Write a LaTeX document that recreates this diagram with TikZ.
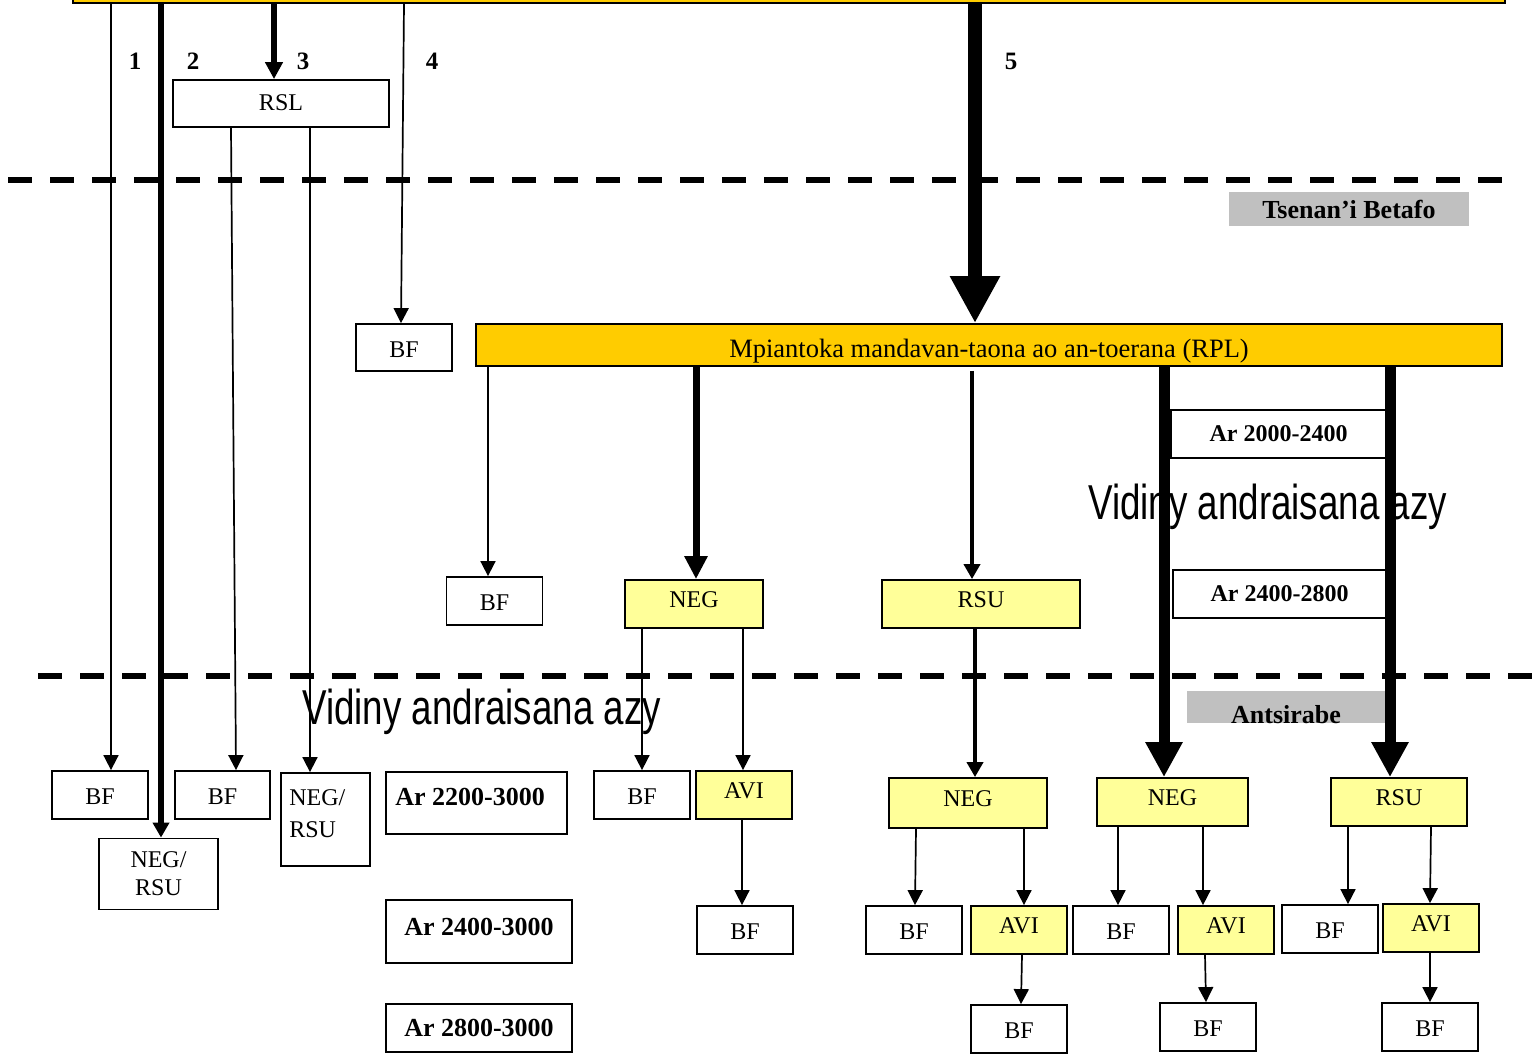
\documentclass[tikz,border=0pt]{standalone}
\usepackage{fontspec}
\setmainfont{Liberation Serif}
\newfontfamily\narrowsans[FakeStretch=0.75]{Liberation Sans}
\usetikzlibrary{arrows.meta}
\definecolor{gold}{HTML}{FFCC00}
\definecolor{pale}{HTML}{FFFF99}
\definecolor{greybg}{HTML}{C0C0C0}
\begin{document}
\begin{tikzpicture}[x=1pt,y=-1pt,
  plainbox/.style={draw, line width=1.8pt, inner sep=0pt, fill=white,
    minimum width=96pt, minimum height=48pt,
    font=\fontsize{24}{28}\selectfont},
  box/.style={plainbox, text height=19pt, text depth=0pt},
  ybox/.style={plainbox, fill=pale, text height=17pt, text depth=10pt},
  rbox/.style={draw, line width=1.8pt, inner sep=0pt, fill=white,
    font=\bfseries\fontsize{24}{28}\selectfont},
  lbox/.style={draw, line width=1.8pt, inner sep=0pt, fill=white,
    font=\bfseries\fontsize{26}{30}\selectfont},
  gbox/.style={fill=greybg, inner sep=0pt, font=\bfseries\fontsize{26}{30}\selectfont},
  num/.style={inner sep=0pt, font=\bfseries\fontsize{25}{25}\selectfont},
  vid/.style={anchor=base west, inner sep=0pt, font=\narrowsans\fontsize{49}{49}\selectfont},
  tarr/.style={line width=1.7pt, -{Triangle[length=15pt,width=15pt]}},
  arrB/.style={line width=5.5pt, -{Triangle[length=15pt,width=16pt]}},
  arrC/.style={line width=6pt, -{Triangle[length=17pt,width=17pt]}},
  arrD/.style={line width=14pt, -{Triangle[length=47pt,width=47pt]}},
  arrE/.style={line width=7pt, -{Triangle[length=23pt,width=22pt]}},
  arrF/.style={line width=4.5pt, -{Triangle[length=15pt,width=16pt]}},
  arrG/.style={line width=11pt, -{Triangle[length=35pt,width=35pt]}},
  dash line/.style={line width=5.5pt, dash pattern=on 24pt off 18pt}
]
\useasboundingbox (0,0) rectangle (1534,1055);
\clip (0,0) rectangle (1534,1055);
\fill[white] (0,0) rectangle (1534,1055);

% ---- texts behind ----
\node[vid] (vidA) at (302,724) {Vidiny andraisana azy};
\node[vid] (vidB) at (1088,519) {Vidiny andraisana azy};

% ---- top level ----
\node[draw, line width=1.8pt, fill=gold, minimum width=1432pt, minimum height=30pt, inner sep=0pt] (main) at (789,-12) {};
\node[box, minimum width=216pt, minimum height=47pt, text height=13pt] (RSL) at (281,103.5) {RSL};
\node[box, minimum height=47pt] (BFfour) at (404,347.5) {BF};
\node[draw, line width=1.8pt, fill=gold, minimum width=1026pt, minimum height=42pt, inner sep=0pt,
  text height=25pt, text depth=0pt,
  font=\fontsize{26.5}{28}\selectfont] (RPL) at (989,345) {Mpiantoka mandavan-taona ao an-toerana (RPL)};

\node[num] (n1) at (135,61) {1};
\node[num] (n2) at (193,61) {2};
\node[num] (n3) at (303,61) {3};
\node[num] (n4) at (432,61) {4};
\node[num] (n5) at (1011,61) {5};

\node[gbox, minimum width=240pt, minimum height=34pt] (tsen) at (1349,209) {Tsenan’i Betafo};
\node[gbox, minimum width=198pt, text height=32pt, text depth=0pt, anchor=base] (antsi) at (1286,723) {Antsirabe};

% ---- RPL level ----
\node[box] (BFa) at (494.5,601) {BF};
\node[ybox, minimum width=138pt] (NEGa) at (694,604) {NEG};
\node[ybox, minimum width=198pt] (RSUa) at (981,604) {RSU};
\node[rbox, minimum width=215pt, minimum height=48pt] (Ar1) at (1278.5,434) {Ar 2000-2400};
\node[rbox, minimum width=213pt, minimum height=48pt] (Ar2) at (1279.5,594) {Ar 2400-2800};

% ---- bottom level ----
\node[box] (BFone) at (100,795) {BF};
\node[plainbox, minimum width=119pt, minimum height=71pt, align=center] (NRone) at (158.5,874) {NEG/\\RSU};
\node[box, minimum width=95pt] (BFtwo) at (222.5,795) {BF};
\node[plainbox, minimum width=89pt, minimum height=93pt,
  label={[anchor=north west, inner sep=0pt, xshift=9pt, yshift=-17pt, align=left,
  font=\fontsize{24}{32}\selectfont]north west:{NEG/\\RSU}}] (NRtwo) at (325.5,819.5) {};
\node[lbox, minimum width=181pt, minimum height=62pt,
  label={[anchor=north west, inner sep=0pt, xshift=10pt, yshift=-17pt,
  font=\bfseries\fontsize{26}{30}\selectfont]north west:{Ar 2200-3000}}] (Ar3) at (476.5,803) {};
\node[lbox, minimum width=186pt, minimum height=63pt, text height=7pt, text depth=0pt] (Ar4) at (479,931.5) {Ar 2400-3000};
\node[lbox, minimum width=186pt, minimum height=48pt] (Ar5) at (479,1028) {Ar 2800-3000};

\node[box] (BFb) at (642,795) {BF};
\node[ybox] (AVIa) at (744,795) {AVI};
\node[box] (BFc) at (745,930) {BF};

\node[ybox, minimum width=158pt, minimum height=50pt] (NEGb) at (968,803) {NEG};
\node[box] (BFd) at (914,930) {BF};
\node[ybox] (AVIb) at (1019,930) {AVI};
\node[box] (BFe) at (1019,1029) {BF};

\node[ybox, minimum width=151pt] (NEGc) at (1172.5,802) {NEG};
\node[box] (BFf) at (1121,930) {BF};
\node[ybox] (AVIc) at (1226,930) {AVI};
\node[box] (BFg) at (1208,1027) {BF};

\node[ybox, minimum width=136pt] (RSUc) at (1399,802) {RSU};
\node[box] (BFh) at (1330,929) {BF};
\node[ybox] (AVId) at (1431,928) {AVI};
\node[box] (BFi) at (1430,1027) {BF};

% ---- dashed separators ----
\coordinate (dA1) at (8,180);
\coordinate (dA2) at (1505,180);
\coordinate (dB1) at (38,676);
\coordinate (dB2) at (1534,676);
\draw[dash line] (dA1) -- (dA2);
\draw[dash line] (dB1) -- (dB2);

% ---- connectors ----
\draw[tarr] (111,0 |- main.south) -- (111,0 |- BFone.north);
\draw[arrB] (161,0 |- main.south) -- (161,0 |- NRone.north);
\draw[arrC] (274,0 |- main.south) -- (274,0 |- RSL.north);
\draw[tarr] (404,0 |- main.south) -- (401,0 |- BFfour.north);
\draw[arrD] (975,0 |- main.south) -- (975,0 |- RPL.north);

\draw[tarr] (231,0 |- RSL.south) -- (236,0 |- BFtwo.north);
\draw[tarr] (310,0 |- RSL.south) -- (310,0 |- NRtwo.north);

\draw[tarr] (488,0 |- RPL.south) -- (488,0 |- BFa.north);
\draw[arrE] (696,0 |- RPL.south) -- (696,0 |- NEGa.north);
\draw[arrF] ([yshift=-4pt]972,0 |- RPL.south) -- (972,0 |- RSUa.north);
\draw[arrG] (1164,0 |- RPL.south) -- (1164,0 |- NEGc.north);
\draw[arrG] (1390,0 |- RPL.south) -- (1390,0 |- RSUc.north);

\draw[tarr] (642,0 |- NEGa.south) -- (642,0 |- BFb.north);
\draw[tarr] (743,0 |- NEGa.south) -- (743,0 |- AVIa.north);
\draw[tarr] (742,0 |- AVIa.south) -- (742,0 |- BFc.north);

\draw[arrF] (975,0 |- RSUa.south) -- (975,0 |- NEGb.north);
\draw[tarr] (916,0 |- NEGb.south) -- (915,0 |- BFd.north);
\draw[tarr] (1024,0 |- NEGb.south) -- (1024,0 |- AVIb.north);
\draw[tarr] (1022,0 |- AVIb.south) -- (1021,0 |- BFe.north);

\draw[tarr] (1118,0 |- NEGc.south) -- (1118,0 |- BFf.north);
\draw[tarr] (1203,0 |- NEGc.south) -- (1203,0 |- AVIc.north);
\draw[tarr] (1205,0 |- AVIc.south) -- (1206,0 |- BFg.north);

\draw[tarr] (1348,0 |- RSUc.south) -- (1348,0 |- BFh.north);
\draw[tarr] (1431,0 |- RSUc.south) -- (1430,0 |- AVId.north);
\draw[tarr] (1430,0 |- AVId.south) -- (1430,0 |- BFi.north);
\end{tikzpicture}
\end{document}
